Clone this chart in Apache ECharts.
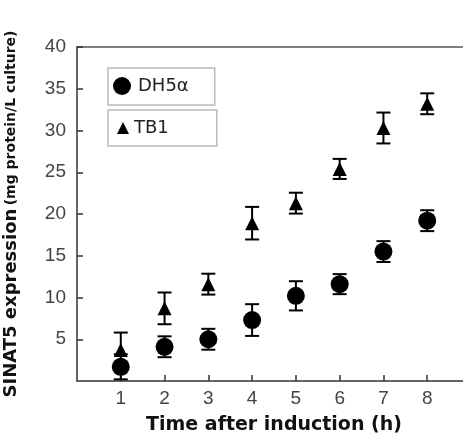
<!DOCTYPE html>
<html>
<head>
<meta charset="utf-8">
<script src="https://cdn.jsdelivr.net/npm/echarts@6/dist/echarts.min.js"></script>
<style>html,body{margin:0;padding:0;background:#fff}#c{width:463px;height:436px}</style>
</head>
<body>
<div id="c"></div>
<script>
var hours = [1, 2, 3, 4, 5, 6, 7, 8];
var dh5aMean = [1.7, 4.1, 5.0, 7.3, 10.2, 11.6, 15.5, 19.2];
var dh5aErr  = [1.5, 1.25, 1.25, 1.9, 1.75, 1.2, 1.25, 1.25];
var tb1Mean  = [3.7, 8.7, 11.6, 18.9, 21.3, 25.4, 30.3, 33.2];
var tb1Err   = [2.1, 1.9, 1.25, 1.95, 1.25, 1.2, 1.85, 1.25];
var yTicks = [5, 10, 15, 20, 25, 30, 35, 40];
var seriesNames = ['DH5\u03b1', 'TB1'];

function pts(m){ return hours.map(function(h,i){ return [h, m[i]]; }); }
function errs(m,e){ return hours.map(function(h,i){ return [h, m[i]-e[i], m[i]+e[i]]; }); }

function errorRender(params, api){
  var x = api.value(0), lo = api.value(1), hi = api.value(2);
  var pLo = api.coord([x, lo]), pHi = api.coord([x, hi]);
  var w = 7;
  var st = {stroke: '#000', lineWidth: 2};
  return {type: 'group', children: [
    {type: 'line', shape: {x1: pLo[0], y1: pLo[1], x2: pHi[0], y2: pHi[1]}, style: st},
    {type: 'line', shape: {x1: pLo[0]-w, y1: pLo[1], x2: pLo[0]+w, y2: pLo[1]}, style: st},
    {type: 'line', shape: {x1: pHi[0]-w, y1: pHi[1], x2: pHi[0]+w, y2: pHi[1]}, style: st}
  ]};
}

var chart = echarts.init(document.getElementById('c'), null, {renderer: 'canvas'});
var axisCol = '#333';
chart.setOption({
  animation: false,
  backgroundColor: '#fff',
  grid: {left: 77, top: 47, bottom: 55, right: -8, containLabel: false, outerBoundsMode: 'none'},
  legend: [
    {data: [seriesNames[0]], left: 108, top: 68, orient: 'horizontal', selectedMode: false,
     borderColor: '#bbb', borderWidth: 1.5, borderRadius: 0,
     padding: [9, 26, 10, 5], itemWidth: 22, itemHeight: 18,
     textStyle: {fontFamily: 'DejaVu Sans', fontSize: 18, color: '#222', lineHeight: 18}},
    {data: [seriesNames[1]], left: 108, top: 110, orient: 'horizontal', selectedMode: false,
     borderColor: '#bbb', borderWidth: 1.5, borderRadius: 0,
     padding: [9, 48, 9, 9], itemWidth: 12, itemHeight: 12,
     textStyle: {fontFamily: 'DejaVu Sans', fontSize: 18, color: '#222', lineHeight: 18}}
  ],
  xAxis: [{
    type: 'value', min: 0, max: 9, interval: 1,
    name: 'Time after induction (h)', nameLocation: 'middle', nameGap: 35,
    nameTextStyle: {fontFamily: 'DejaVu Sans', fontWeight: 'bold', fontSize: 19, color: '#111'},
    axisLine: {show: true, onZero: false, lineStyle: {color: axisCol, width: 1.5}},
    axisTick: {show: true, inside: true, length: 6, lineStyle: {color: axisCol, width: 1.5}},
    axisLabel: {showMinLabel: false, showMaxLabel: false, margin: 8,
      fontFamily: 'Liberation Sans', fontSize: 19, color: '#444'},
    splitLine: {show: false}
  }, {
    type: 'value', min: 0, max: 9, position: 'top',
    axisLine: {show: true, onZero: false, lineStyle: {color: '#555', width: 1.5}},
    axisTick: {show: false}, axisLabel: {show: false}, splitLine: {show: false}
  }],
  yAxis: {
    type: 'value', min: 0, max: 40, interval: 5,
    name: '{a|SINAT5 expression} {b|(mg protein/L culture)}',
    nameLocation: 'middle', nameGap: 57, nameRotate: 90,
    nameTextStyle: {rich: {
      a: {fontFamily: 'DejaVu Sans', fontWeight: 'bold', fontSize: 18, color: '#111'},
      b: {fontFamily: 'DejaVu Sans', fontWeight: 'bold', fontSize: 14, color: '#111'}
    }},
    axisLine: {show: true, onZero: false, lineStyle: {color: axisCol, width: 1.5}},
    axisTick: {show: true, inside: true, length: 6, lineStyle: {color: axisCol, width: 1.5}},
    axisLabel: {showMinLabel: false, margin: 11,
      fontFamily: 'Liberation Sans', fontSize: 19, color: '#444',
      formatter: function(v){ return yTicks.indexOf(v) >= 0 ? String(v) : ''; }},
    splitLine: {show: false}
  },
  series: [
    {type: 'custom', name: 'errDH', renderItem: errorRender, data: errs(dh5aMean, dh5aErr), z: 2,
     encode: {x: 0, y: [1, 2]}},
    {type: 'custom', name: 'errTB', renderItem: errorRender, data: errs(tb1Mean, tb1Err), z: 2,
     encode: {x: 0, y: [1, 2]}},
    {type: 'scatter', name: seriesNames[0], symbol: 'circle', symbolSize: 18,
     itemStyle: {color: '#000', opacity: 1}, data: pts(dh5aMean), z: 3},
    {type: 'scatter', name: seriesNames[1], symbol: 'triangle', symbolSize: 14,
     itemStyle: {color: '#000', opacity: 1}, data: pts(tb1Mean), z: 3}
  ]
});
</script>
</body>
</html>
